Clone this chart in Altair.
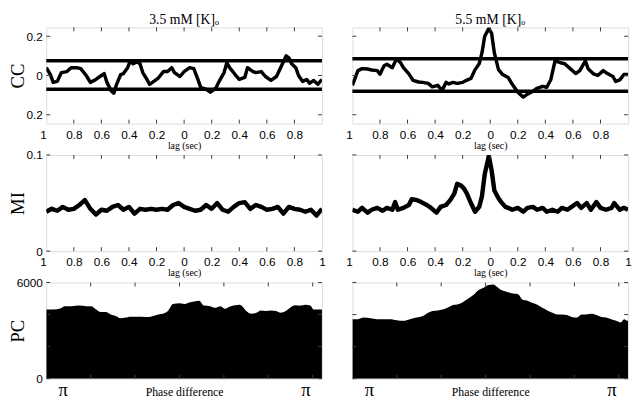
import altair as alt
import pandas as pd

# ---------------- data ----------------
lag_cc_35 = [-1.00, -0.97, -0.95, -0.92, -0.89, -0.85, -0.82, -0.78, -0.75, -0.71, -0.68, -0.64, -0.60, -0.58,
             -0.56, -0.53, -0.51, -0.49, -0.46, -0.44, -0.41, -0.39, -0.37, -0.34, -0.32, -0.30, -0.27, -0.25,
             -0.22, -0.19, -0.15, -0.12, -0.09, -0.07, -0.03, 0.00, 0.04, 0.07, 0.10, 0.12, 0.16, 0.19, 0.23,
             0.25, 0.29, 0.31, 0.33, 0.37, 0.40, 0.44, 0.46, 0.50, 0.52, 0.56, 0.59, 0.63, 0.67, 0.70, 0.74,
             0.76, 0.78, 0.81, 0.83, 0.86, 0.89, 0.91, 0.94, 0.97, 1.00]
cc_35 = [0.04, 0.005, -0.035, -0.03, 0.015, 0.02, 0.04, 0.04, 0.035, 0.0, -0.035, -0.02, 0.0, 0.01,
         -0.035, -0.077, -0.09, -0.045, 0.005, 0.01, 0.04, 0.075, 0.06, 0.07, 0.06, 0.015, -0.02, -0.045,
         -0.03, -0.015, 0.02, 0.02, 0.04, 0.015, -0.005, 0.02, 0.04, 0.035, -0.02, -0.06, -0.07, -0.085,
         -0.065, -0.035, 0.015, 0.065, 0.04, 0.005, -0.02, -0.01, 0.04, 0.02, 0.015, 0.02, -0.005, -0.025,
         -0.005, 0.04, 0.10, 0.09, 0.06, 0.04, 0.0, -0.03, -0.02, -0.04, -0.025, -0.045, -0.02]
cc_thr_35 = [0.075, -0.07]

lag_cc_55 = [-1.00, -0.96, -0.93, -0.89, -0.86, -0.82, -0.80, -0.77, -0.75, -0.71, -0.68, -0.65, -0.63, -0.59,
             -0.56, -0.52, -0.49, -0.45, -0.42, -0.38, -0.35, -0.32, -0.30, -0.27, -0.24, -0.20, -0.18, -0.14,
             -0.11, -0.08, -0.06, -0.04, -0.01, 0.01, 0.03, 0.06, 0.09, 0.13, 0.16, 0.20, 0.24, 0.27, 0.31,
             0.34, 0.38, 0.41, 0.44, 0.47, 0.51, 0.54, 0.58, 0.62, 0.65, 0.69, 0.71, 0.75, 0.78, 0.82, 0.85,
             0.89, 0.91, 0.94, 0.97, 1.00]
cc_55 = [-0.05, 0.025, 0.035, 0.033, 0.028, 0.025, 0.007, 0.05, 0.057, 0.04, 0.085, 0.065, 0.04, 0.008,
         -0.025, -0.033, -0.035, -0.04, -0.058, -0.05, -0.077, -0.035, -0.043, -0.035, -0.04, -0.035, -0.027,
         -0.015, 0.03, 0.06, 0.115, 0.2, 0.24, 0.215, 0.115, 0.03, 0.005, -0.01, -0.045, -0.085, -0.11,
         -0.095, -0.08, -0.065, -0.055, -0.06, -0.02, 0.075, 0.065, 0.06, 0.035, 0.01, 0.025, 0.075, 0.035,
         0.008, 0.0, 0.025, 0.01, -0.005, -0.03, -0.022, 0.005, 0.005]
cc_thr_55 = [0.085, -0.08]

lag_mi_35 = [-1.00, -0.96, -0.92, -0.88, -0.84, -0.80, -0.76, -0.72, -0.68, -0.64, -0.60, -0.56, -0.52,
             -0.48, -0.44, -0.40, -0.36, -0.32, -0.28, -0.24, -0.20, -0.16, -0.12, -0.08, -0.04, 0.00, 0.04,
             0.08, 0.12, 0.16, 0.20, 0.24, 0.28, 0.32, 0.36, 0.40, 0.44, 0.48, 0.52, 0.56, 0.60, 0.64, 0.68,
             0.72, 0.76, 0.80, 0.84, 0.88, 0.92, 0.96, 1.00]
mi_35 = [0.041, 0.044, 0.042, 0.046, 0.043, 0.044, 0.048, 0.053, 0.044, 0.038, 0.043, 0.042, 0.046, 0.048,
         0.043, 0.046, 0.039, 0.044, 0.043, 0.044, 0.043, 0.044, 0.043, 0.048, 0.050, 0.046, 0.044, 0.042,
         0.043, 0.048, 0.044, 0.050, 0.043, 0.041, 0.046, 0.050, 0.051, 0.044, 0.048, 0.046, 0.043, 0.044,
         0.046, 0.039, 0.046, 0.044, 0.043, 0.041, 0.043, 0.037, 0.044]

lag_mi_55 = [-1.00, -0.96, -0.93, -0.89, -0.86, -0.82, -0.78, -0.75, -0.71, -0.69, -0.67, -0.63, -0.59, -0.57,
             -0.53, -0.50, -0.46, -0.43, -0.39, -0.36, -0.32, -0.29, -0.26, -0.24, -0.21, -0.19, -0.17, -0.14,
             -0.11, -0.08, -0.06, -0.04, -0.01, 0.01, 0.03, 0.06, 0.08, 0.11, 0.13, 0.16, 0.20, 0.24, 0.27,
             0.31, 0.34, 0.38, 0.41, 0.45, 0.49, 0.52, 0.56, 0.59, 0.63, 0.66, 0.70, 0.73, 0.77, 0.80, 0.84,
             0.88, 0.90, 0.94, 0.97, 1.00]
mi_55 = [0.043, 0.041, 0.045, 0.040, 0.043, 0.045, 0.042, 0.045, 0.043, 0.051, 0.043, 0.045, 0.048, 0.054,
         0.053, 0.051, 0.048, 0.045, 0.040, 0.046, 0.048, 0.053, 0.060, 0.070, 0.068, 0.065, 0.060, 0.050,
         0.041, 0.046, 0.057, 0.080, 0.099, 0.084, 0.063, 0.055, 0.051, 0.046, 0.045, 0.043, 0.045, 0.041,
         0.045, 0.046, 0.043, 0.045, 0.041, 0.043, 0.041, 0.045, 0.043, 0.046, 0.050, 0.045, 0.050, 0.043,
         0.051, 0.045, 0.043, 0.045, 0.050, 0.043, 0.045, 0.043]

phase_pc_35 = [-3.57, -3.55, -3.38, -3.21, -3.09, -2.92, -2.71, -2.54, -2.41, -2.28, -2.16, -2.03, -1.90,
               -1.77, -1.65, -1.52, -1.39, -1.27, -1.10, -0.93, -0.80, -0.67, -0.55, -0.42, -0.29, -0.12, 0.00,
               0.13, 0.26, 0.39, 0.51, 0.68, 0.81, 0.94, 1.06, 1.19, 1.32, 1.44, 1.53, 1.61, 1.74, 1.87, 1.99,
               2.12, 2.25, 2.38, 2.50, 2.63, 2.76, 2.88, 3.01, 3.14, 3.27, 3.35, 3.57]
pc_35 = [4320, 4320, 4320, 4380, 4520, 4520, 4560, 4520, 4520, 4320, 4160, 4160, 4010, 3910, 3770, 3810,
         3870, 3870, 3870, 3850, 3910, 4010, 4050, 4220, 4660, 4700, 4660, 4760, 4820, 4870, 4560, 4520,
         4420, 4520, 4360, 4500, 4580, 4620, 4460, 4220, 4050, 4120, 4260, 4220, 4260, 4220, 4120, 4220,
         4460, 4580, 4560, 4620, 4560, 4320, 4320]

phase_pc_55 = [-3.57, -3.56, -3.43, -3.27, -3.10, -2.93, -2.76, -2.59, -2.42, -2.25, -2.08, -1.91, -1.74,
               -1.61, -1.49, -1.36, -1.23, -1.11, -0.98, -0.81, -0.68, -0.55, -0.43, -0.30, -0.17, -0.05, 0.08,
               0.17, 0.29, 0.42, 0.55, 0.72, 0.84, 0.97, 1.10, 1.22, 1.35, 1.48, 1.61, 1.73, 1.86, 1.99, 2.11,
               2.24, 2.37, 2.49, 2.62, 2.75, 2.88, 3.00, 3.13, 3.26, 3.38, 3.47, 3.55, 3.57]
pc_55 = [3710, 3710, 3710, 3810, 3770, 3710, 3710, 3710, 3650, 3610, 3710, 3810, 3910, 4120, 4220, 4260,
         4320, 4420, 4580, 4660, 4820, 5030, 5230, 5530, 5680, 5840, 5880, 5740, 5530, 5430, 5330, 5270,
         4930, 4870, 4720, 4620, 4420, 4260, 4120, 4010, 4010, 3970, 3850, 3810, 4010, 4010, 4050, 3970,
         3850, 3810, 3710, 3610, 3510, 3710, 3610, 3610]

lag_label_values = [-1, -0.8, -0.6, -0.4, -0.2, 0, 0.2, 0.4, 0.6, 0.8, 1]
lag_tick_values = [-0.8, -0.6, -0.4, -0.2, 0, 0.2, 0.4, 0.6, 0.8]
cc_tick_values = [-0.2, 0, 0.2]
mi_tick_values = [0, 0.1]
pc_tick_values = [0, 2000, 4000, 6000]
pc_label_values = [0, 6000]
phase_tick_values = [-2.42, -1.27, -0.12, 1.03, 2.18, 3.33]
phase_label_values = [-3.14159, 3.14159]
column_titles = ["3.5 mM [K]\u2092", "5.5 mM [K]\u2092"]
title_anchor_lag = [0.0]
row_titles = ["CC", "MI", "PC"]

# ---------------- styling ----------------
W, H = 281, 98
FRAME = "#3a3a3a"
SANS = "Liberation Sans"
SERIF = "Liberation Serif"

lag_scale = alt.Scale(domain=[-1, 1], nice=False, zero=False)
phase_scale = alt.Scale(domain=[-3.57, 3.57], nice=False, zero=False)
cc_scale = alt.Scale(domain=[-0.245, 0.245], nice=False, zero=False)
mi_scale = alt.Scale(domain=[0, 0.1], nice=False, zero=False)
pc_scale = alt.Scale(domain=[0, 6000], nice=False)


def lag_axis(show_last):
    expr = "format(abs(datum.value), '.1~f')"
    if not show_last:
        expr = "datum.value > 0.99 ? '' : " + expr
    return alt.Axis(values=lag_label_values, labelExpr=expr, title="lag (sec)", ticks=False, tickSize=0,
                    domain=False, grid=False, labelFont=SANS, labelFontSize=12, labelPadding=6,
                    labelAlign={"condition": {"test": "datum.value < -0.99", "value": "right"},
                                "value": "center"},
                    labelFlush=False, labelColor="black", titleFont=SERIF, titleFontSize=10,
                    titleFontWeight="normal", titleColor="black", titleBaseline="alphabetic", titleY=25)


def phase_axis():
    return alt.Axis(values=phase_label_values, labelExpr="'π'", title="Phase difference", ticks=False,
                    tickSize=0, domain=False, grid=False, labelFont=SERIF, labelFontSize=19,
                    labelPadding=2, labelFlush=False, labelColor="black", titleFont=SERIF,
                    titleFontSize=12, titleFontWeight="normal", titleColor="black",
                    titleBaseline="alphabetic", titleY=17)


def y_axis(title, values, expr=None, fmt=None):
    kw = dict(values=values, title=title, ticks=False, tickSize=0, domain=False, grid=False,
              labelFont=SANS, labelFontSize=12, labelPadding=4, labelColor="black", labelFlush=False,
              titleFont=SERIF, titleFontSize=19, titleFontWeight="normal", titleColor="black",
              titleAngle=270, titleBaseline="alphabetic", titleX=-23)
    if expr:
        kw["labelExpr"] = expr
    if fmt:
        kw["format"] = fmt
    return alt.Axis(**kw)


def x_ticks(vals, scale):
    base = alt.Chart(pd.DataFrame({"t": vals}))
    top = base.mark_rule(color=FRAME, strokeWidth=1).encode(
        x=alt.X("t:Q", scale=scale, axis=None), y=alt.value(0), y2=alt.value(4))
    bot = base.mark_rule(color=FRAME, strokeWidth=1).encode(
        x=alt.X("t:Q", scale=scale, axis=None), y=alt.value(H), y2=alt.value(H - 4))
    return [top, bot]


def y_ticks(vals, scale):
    base = alt.Chart(pd.DataFrame({"t": vals}))
    left = base.mark_rule(color=FRAME, strokeWidth=1).encode(
        y=alt.Y("t:Q", scale=scale, axis=None), x=alt.value(0), x2=alt.value(4))
    right = base.mark_rule(color=FRAME, strokeWidth=1).encode(
        y=alt.Y("t:Q", scale=scale, axis=None), x=alt.value(W), x2=alt.value(W - 4))
    return [left, right]


def title_layer(text):
    d = pd.DataFrame({"s": [text], "pos": title_anchor_lag})
    return alt.Chart(d).mark_text(font=SERIF, fontSize=14, align="center", baseline="alphabetic",
                                  color="black").encode(
        text="s:N", x=alt.X("pos:Q", scale=lag_scale, axis=None), y=alt.value(-4))


def finish(layers):
    return alt.layer(*layers).resolve_axis(x="independent", y="independent").properties(width=W, height=H)


def cc_panel(lags, vals, thr, col):
    df = pd.DataFrame({"lag": lags, "v": vals})
    yax = y_axis(row_titles[0], cc_tick_values, expr="format(abs(datum.value), '.1~f')") if col == 0 else None
    line = alt.Chart(df).mark_line(color="black", strokeWidth=3.5, strokeJoin="round", clip=True).encode(
        x=alt.X("lag:Q", scale=lag_scale, axis=lag_axis(False)),
        y=alt.Y("v:Q", scale=cc_scale, axis=yax))
    rules = alt.Chart(pd.DataFrame({"thr": thr})).mark_rule(color="black", strokeWidth=3.5).encode(
        y=alt.Y("thr:Q", scale=cc_scale, axis=None))
    layers = [line, rules] + x_ticks(lag_tick_values, lag_scale) + y_ticks(cc_tick_values, cc_scale) \
        + [title_layer(column_titles[col])]
    return finish(layers)


def mi_panel(lags, vals, col):
    df = pd.DataFrame({"lag": lags, "v": vals})
    yax = y_axis(row_titles[1], mi_tick_values, expr="format(datum.value, '.1~f')") if col == 0 else None
    line = alt.Chart(df).mark_line(color="black", strokeWidth=4.5, strokeJoin="round", clip=True).encode(
        x=alt.X("lag:Q", scale=lag_scale, axis=lag_axis(True)),
        y=alt.Y("v:Q", scale=mi_scale, axis=yax))
    layers = [line] + x_ticks(lag_tick_values, lag_scale) + y_ticks(mi_tick_values, mi_scale)
    return finish(layers)


def pc_panel(phases, vals, col):
    df = pd.DataFrame({"phase": phases, "v": vals})
    yax = y_axis(row_titles[2], pc_label_values, fmt=".0f") if col == 0 else None
    area = alt.Chart(df).mark_area(color="black", interpolate="monotone", clip=True).encode(
        x=alt.X("phase:Q", scale=phase_scale, axis=phase_axis()),
        y=alt.Y("v:Q", scale=pc_scale, axis=yax))
    layers = [area] + x_ticks(phase_tick_values, phase_scale) + y_ticks(pc_tick_values, pc_scale)
    return finish(layers)


panels = [
    cc_panel(lag_cc_35, cc_35, cc_thr_35, 0), cc_panel(lag_cc_55, cc_55, cc_thr_55, 1),
    mi_panel(lag_mi_35, mi_35, 0), mi_panel(lag_mi_55, mi_55, 1),
    pc_panel(phase_pc_35, pc_35, 0), pc_panel(phase_pc_55, pc_55, 1),
]

chart = alt.concat(*panels, columns=2, spacing={"row": 32, "column": 31}, bounds="flush").properties(
    padding={"left": 0, "top": 0, "right": 0, "bottom": 0}
).configure_view(stroke=FRAME, strokeWidth=1).configure(background="white")

chart.save("out.html", embed_options={"renderer": "svg", "actions": False})
